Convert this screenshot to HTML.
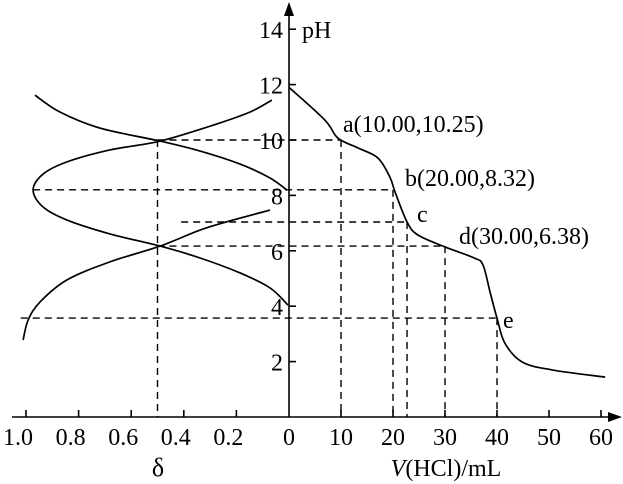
<!DOCTYPE html>
<html><head><meta charset="utf-8"><style>
html,body{margin:0;padding:0;background:#fff;}
svg{display:block;font-family:"Liberation Serif",serif;}
</style></head><body>
<svg id="chart" width="623" height="484" viewBox="0 0 623 484" xmlns="http://www.w3.org/2000/svg">
<g id="guides" stroke="#000" stroke-width="1.4" stroke-dasharray="7,5" fill="none"></g>
<g id="axes" stroke="#000" stroke-width="1.6" fill="none"></g>
<g id="curves" stroke="#000" stroke-width="1.7" fill="none"></g>
<g id="labels" font-size="24" fill="#000"></g>
</svg>
<script>
const vTicks=[0,10,20,30,40,50,60];
const dTicks=[1.0,0.8,0.6,0.4,0.2];
const dTickLabels=["1.0","0.8","0.6","0.4","0.2"];
const pHTicks=[2,4,6,8,10,12,14];
const titrV=[0,6.9,9.4,13.3,17.1,19.4,20.4,22.7,24.8,30,35.5,37.3,38.7,40,41.5,44.8,50.6,60.8];
const titrPH=[11.9,10.72,10.07,9.71,9.35,8.66,8.12,7.04,6.57,6.14,5.75,5.49,4.48,3.57,2.67,1.99,1.70,1.44];
const co3D=[0.966,0.871,0.719,0.49,0.338,0.186,0.072,0.008];
const co3PH=[11.62,11.01,10.43,9.96,9.60,9.13,8.63,8.19];
const hco3D=[0.065,0.148,0.274,0.49,0.681,0.844,0.935,0.973,0.935,0.844,0.681,0.49,0.338,0.186,0.072,0.004];
const hco3PH=[11.44,11.01,10.58,9.96,9.64,9.21,8.77,8.19,7.58,7.11,6.61,6.17,5.74,5.20,4.66,4.04];
const h2co3D=[0.072,0.213,0.338,0.49,0.681,0.844,0.947,0.992,1.011];
const h2co3PH=[7.47,7.11,6.75,6.17,5.60,4.95,4.15,3.50,2.78];
const guideV=[10,20,22.7,30,40];
const guidePH=[10.0,8.2,7.04,6.17,3.57];
const guideD=[0.5,0.973,0.41,0.5,1.02];
const pointNames=["a","b","c","d","e"];
const pointLabels=["a(10.00,10.25)","b(20.00,8.32)","c","d(30.00,6.38)","e"];

const X0=289, Y0=417;
const xV=v=>X0+v*5.2;
const xD=d=>X0-d*263;
const yP=p=>Y0-p*27.7;
const NS="http://www.w3.org/2000/svg";
function mk(parent,tag,attrs){const e=document.createElementNS(NS,tag);for(const k in attrs)e.setAttribute(k,attrs[k]);parent.appendChild(e);return e;}
function smooth(pts){let d=`M${pts[0][0]},${pts[0][1]}`;for(let i=0;i<pts.length-1;i++){const p0=pts[Math.max(0,i-1)],p1=pts[i],p2=pts[i+1],p3=pts[Math.min(pts.length-1,i+2)];const c1=[p1[0]+(p2[0]-p0[0])/6,p1[1]+(p2[1]-p0[1])/6],c2=[p2[0]-(p3[0]-p1[0])/6,p2[1]-(p3[1]-p1[1])/6];d+=` C${c1[0]},${c1[1]} ${c2[0]},${c2[1]} ${p2[0]},${p2[1]}`;}return d;}

const axes=document.getElementById('axes');
let e=mk(axes,'line',{x1:12,y1:Y0,x2:610,y2:Y0});


e=mk(axes,'polygon',{points:`622,${Y0} 608,${Y0-5} 608,${Y0+5}`,fill:'#000',stroke:'none'});


e=mk(axes,'line',{x1:X0,y1:Y0,x2:X0,y2:12});


e=mk(axes,'polygon',{points:`${X0},2 ${X0-5},16 ${X0+5},16`,fill:'#000',stroke:'none'});



const labels=document.getElementById('labels');
vTicks.forEach(v=>{const x=xV(v);
 if(v>0){e=mk(axes,'line',{x1:x,y1:Y0,x2:x,y2:Y0-7});}
 e=mk(labels,'text',{x:x,y:Y0+28,'text-anchor':'middle'});e.textContent=String(v);
 
 
});
dTicks.forEach((d,i)=>{const x=xD(d);
 e=mk(axes,'line',{x1:x,y1:Y0,x2:x,y2:Y0-7});
 e=mk(labels,'text',{x:x-8,y:Y0+28,'text-anchor':'middle'});e.textContent=dTickLabels[i];
 
 
});
pHTicks.forEach(p=>{const y=yP(p);
 e=mk(axes,'line',{x1:X0,y1:y,x2:X0+7,y2:y});
 e=mk(labels,'text',{x:X0-6,y:y+9,'text-anchor':'end'});e.textContent=String(p);
 
 
});
e=mk(labels,'text',{x:302,y:38});e.textContent='pH';


e=mk(labels,'text',{x:158,y:476,'text-anchor':'middle','font-size':26});e.textContent='δ';


e=mk(labels,'text',{x:446,y:476,'text-anchor':'middle'});e.innerHTML='<tspan font-style="italic">V</tspan>(HCl)/mL';



const guides=document.getElementById('guides');
guideV.forEach((v,i)=>{const x=xV(v),y=yP(guidePH[i]);
 e=mk(guides,'line',{x1:x,y1:y,x2:x,y2:Y0});
 e=mk(guides,'line',{x1:xD(guideD[i]),y1:y,x2:x,y2:y});
});
e=mk(guides,'line',{x1:xD(0.5),y1:yP(guidePH[0]),x2:xD(0.5),y2:Y0});



const curves=document.getElementById('curves');
e=mk(curves,'path',{d:smooth(titrV.map((v,i)=>[xV(v),yP(titrPH[i])]))});


e=mk(curves,'path',{d:smooth(co3D.map((d,i)=>[xD(d),yP(co3PH[i])]))});


e=mk(curves,'path',{d:smooth(hco3D.map((d,i)=>[xD(d),yP(hco3PH[i])]))});


e=mk(curves,'path',{d:smooth(h2co3D.map((d,i)=>[xD(d),yP(h2co3PH[i])]))});



const offs=[[2,-8],[12,-4],[10,0],[14,-2],[6,10]];
guideV.forEach((v,i)=>{
 e=mk(labels,'text',{x:xV(v)+offs[i][0],y:yP(guidePH[i])+offs[i][1]});e.textContent=pointLabels[i];
 
 
});
</script>
</body></html>
